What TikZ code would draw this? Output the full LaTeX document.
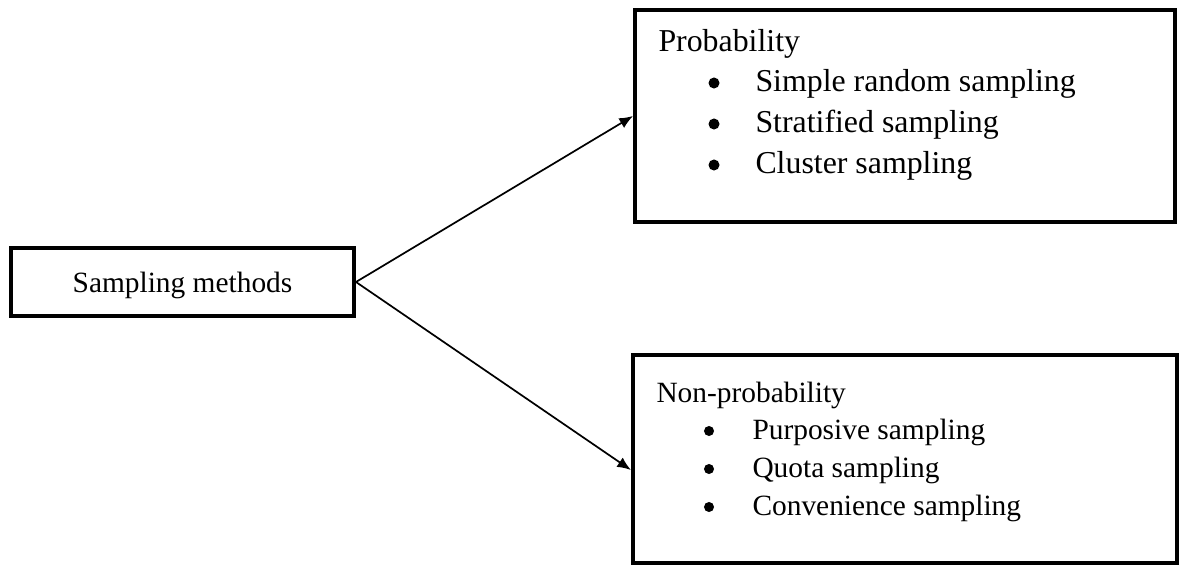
\documentclass[tikz,border=0pt]{standalone}
\usepackage{fontspec}
\setmainfont{Liberation Serif}
\usetikzlibrary{arrows.meta, positioning}

\begin{document}
\begin{tikzpicture}[
    x=0.4082pt, y=-0.4082pt, % one unit is one pixel of the reference
    >={Latex[length=5.6pt, width=4.6pt]}, % Set default arrow tip style
    box/.style={draw, line width=1.63pt, inner sep=0pt}, % Style for framed boxes
    link/.style={->, line width=0.7pt}, % Style for connectors
    big/.style={font=\fontsize{13}{15}\selectfont}, % Text in the upper box
    small/.style={font=\fontsize{12}{14}\selectfont}, % Text elsewhere
    head/.style={anchor=base west, inner sep=0pt}, % Style for box headings
    item/.style={anchor=base west, inner sep=0pt}, % Style for list entries
    dot/.style={circle, fill, inner sep=0pt} % Style for bullets
]

    \useasboundingbox (0,0) rectangle (1179,565);

    % Root box
    \node[box, small, text depth=0pt, minimum width=140pt, minimum height=27.8pt]
        (samp) at (182.5,282) {Sampling methods};

    % Upper box
    \node[box, minimum width=220.4pt, minimum height=86.7pt] (prob) at (905,116) {};
    \node[head, big] (probhead) at (658,52) {Probability};
    \foreach \y/\txt [count=\i] in {92/Simple random sampling, 133/Stratified sampling, 174/Cluster sampling} {
        \node[dot, minimum size=4.5pt] (probdot\i) at (714,\y-9) {};
        \node[item, big] (probitem\i) at (755,\y) {\txt};
    }

    % Lower box
    \node[box, minimum width=222.1pt, minimum height=84.9pt] (nonprob) at (905,459) {};
    \node[head, small] (nonprobhead) at (656,403) {Non-probability};
    \foreach \y/\txt [count=\i] in {439/Purposive sampling, 477/Quota sampling, 515/Convenience sampling} {
        \node[dot, minimum size=4.1pt] (nonprobdot\i) at (709,\y-8) {};
        \node[item, small] (nonprobitem\i) at (752,\y) {\txt};
    }

    % Connectors
    \draw[link] (samp.east) -- (prob.west);
    \draw[link] (samp.east) -- ([yshift=-4.5pt]nonprob.west);

\end{tikzpicture}
\end{document}
